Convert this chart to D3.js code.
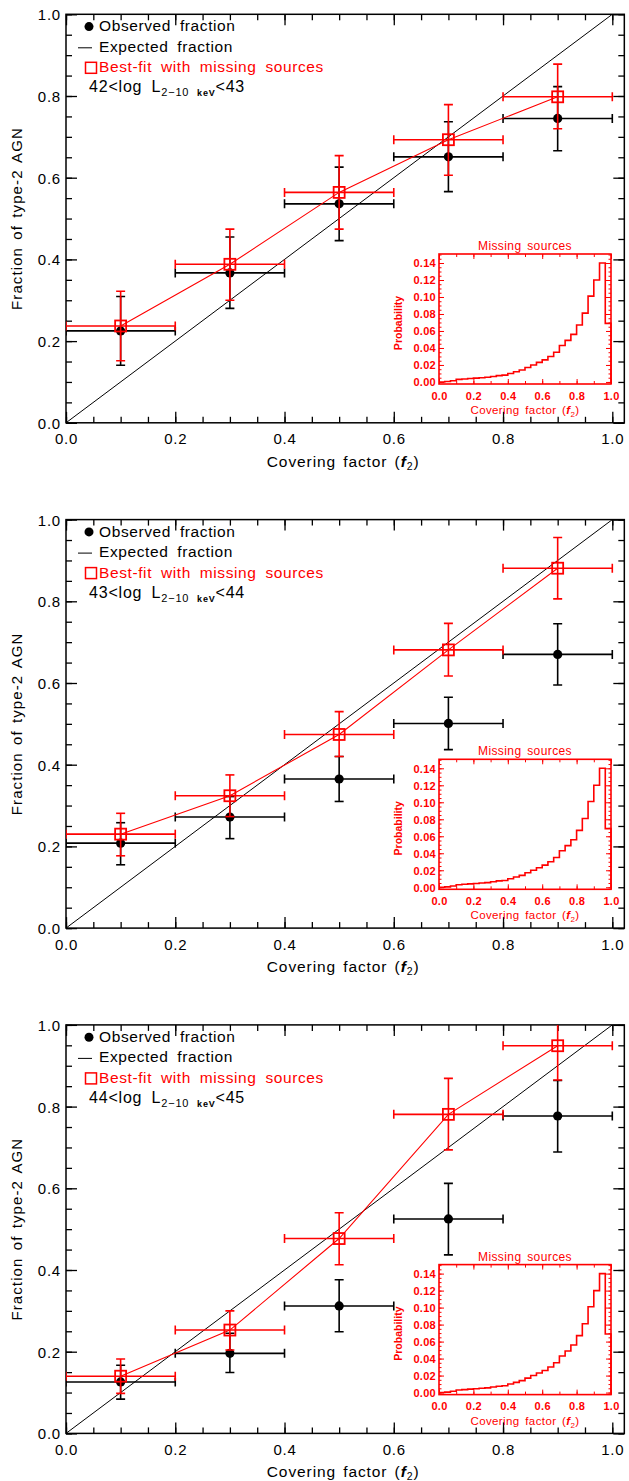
<!DOCTYPE html>
<html>
<head>
<meta charset="utf-8">
<script src="https://cdn.jsdelivr.net/npm/d3@7"></script>
<style>
  body { margin: 0; background: #fff; }
  svg text { font-family: "Liberation Sans", Arial, sans-serif; }
</style>
</head>
<body>
<svg id="chart" width="629" height="1481"></svg>
<script>
// bins in covering factor
const binMid = [0.1, 0.3, 0.5, 0.7, 0.9];
const binLo = [0.0, 0.2, 0.4, 0.6, 0.8];
const binHi = [0.2, 0.4, 0.6, 0.8, 1.0];

// luminosity ranges of the three panels
const lumLo = [42, 43, 44];
const lumHi = [43, 44, 45];

// observed fraction of type-2 AGN (black)
const obsFrac = [
  [0.225, 0.367, 0.536, 0.651, 0.745],
  [0.208, 0.272, 0.365, 0.501, 0.670],
  [0.126, 0.196, 0.312, 0.525, 0.777]
];
const obsLow = [
  [0.141, 0.280, 0.446, 0.566, 0.666],
  [0.155, 0.219, 0.310, 0.437, 0.595],
  [0.084, 0.149, 0.249, 0.437, 0.689]
];
const obsHigh = [
  [0.309, 0.455, 0.626, 0.737, 0.823],
  [0.258, 0.322, 0.420, 0.565, 0.745],
  [0.167, 0.245, 0.376, 0.612, 0.864]
];

// best-fit with missing sources (red)
const fitFrac = [
  [0.237, 0.388, 0.564, 0.693, 0.798],
  [0.230, 0.324, 0.474, 0.681, 0.881],
  [0.140, 0.253, 0.477, 0.781, 0.949]
];
const fitLow = [
  [0.152, 0.300, 0.474, 0.606, 0.720],
  [0.177, 0.273, 0.420, 0.617, 0.806],
  [0.098, 0.204, 0.413, 0.694, 0.865]
];
const fitHigh = [
  [0.322, 0.474, 0.654, 0.779, 0.878],
  [0.281, 0.375, 0.530, 0.746, 0.956],
  [0.182, 0.300, 0.540, 0.869, 1.035]
];

// expected fraction line
const expX = [0, 1];
const expY = [0, 1];

// missing sources histogram (inset)
const histEdges = [0, 0.0333, 0.0667, 0.1, 0.1333, 0.1667, 0.2, 0.2333, 0.2667, 0.3,
  0.3333, 0.3667, 0.4, 0.4333, 0.4667, 0.5, 0.5333, 0.5667, 0.6, 0.6333, 0.6667,
  0.7, 0.7333, 0.7667, 0.8, 0.8333, 0.8667, 0.9, 0.9333, 0.9667, 1.0];
const histProb = [0.0, 0.0005, 0.0015, 0.003, 0.0035, 0.004, 0.0045, 0.005, 0.0055, 0.0065,
  0.0075, 0.008, 0.010, 0.012, 0.014, 0.017, 0.020, 0.023, 0.026, 0.030,
  0.035, 0.043, 0.049, 0.056, 0.067, 0.081, 0.101, 0.120, 0.140, 0.069];

// ticks
const mainMajor = [0, 0.2, 0.4, 0.6, 0.8, 1.0];
const mainMinor = d3.range(0, 1.0001, 0.05);
const insetXMajor = [0, 0.2, 0.4, 0.6, 0.8, 1.0];
const insetXMinor = d3.range(0, 1.0001, 0.1);
const insetYMajor = [0, 0.02, 0.04, 0.06, 0.08, 0.10, 0.12, 0.14];
const insetYMinor = d3.range(0, 0.1501, 0.005);

const svg = d3.select("#chart");
svg.append("rect").attr("width", 629).attr("height", 1481).attr("fill", "#fff");

const RED = "#ff0000";
const fmt1 = d3.format(".1f");
const fmt2 = d3.format(".2f");

function drawPanel(k) {
  const top = 14.3 + 505.3 * k;
  const bottom = top + 408.5;
  const x = d3.scaleLinear().domain([0, 1]).range([66, 612.3]);
  const y = d3.scaleLinear().domain([0, 1]).range([bottom, top]);
  const xMax = x(1.022);

  const g = svg.append("g");

  // clip
  const clipId = "clip" + k;
  g.append("clipPath").attr("id", clipId)
    .append("rect").attr("x", x(0)).attr("y", top).attr("width", xMax - x(0)).attr("height", bottom - top);

  // axes: bottom with labels, top mirror
  g.append("g").attr("transform", `translate(0,${bottom})`)
    .call(d3.axisBottom(x).tickValues(mainMajor).tickSize(-11).tickPadding(11).tickFormat(fmt1));
  g.append("g").attr("transform", `translate(0,${bottom})`)
    .call(d3.axisBottom(x).tickValues(mainMinor).tickSize(-6).tickFormat(""));
  g.append("g").attr("transform", `translate(0,${top})`)
    .call(d3.axisTop(x).tickValues(mainMajor).tickSize(-11).tickFormat(""));
  g.append("g").attr("transform", `translate(0,${top})`)
    .call(d3.axisTop(x).tickValues(mainMinor).tickSize(-6).tickFormat(""));
  const axL = g.append("g").attr("transform", `translate(${x(0)},0)`)
    .call(d3.axisLeft(y).tickValues(mainMajor).tickSize(-11).tickPadding(5).tickFormat(fmt1));
  g.append("g").attr("transform", `translate(${x(0)},0)`)
    .call(d3.axisLeft(y).tickValues(mainMinor).tickSize(-6).tickFormat(""));
  g.append("g").attr("transform", `translate(${xMax},0)`)
    .call(d3.axisRight(y).tickValues(mainMajor).tickSize(-11).tickFormat(""));
  g.append("g").attr("transform", `translate(${xMax},0)`)
    .call(d3.axisRight(y).tickValues(mainMinor).tickSize(-6).tickFormat(""));

  g.selectAll(".domain").remove();
  g.selectAll(".tick line").attr("stroke", "#000").attr("stroke-width", 1.3);
  g.selectAll(".tick text").attr("fill", "#000").style("font-size", "15px").style("letter-spacing", "0.8px");
  axL.selectAll(".tick text").attr("dy", "0.36em");

  // frame
  g.append("rect").attr("x", x(0)).attr("y", top).attr("width", xMax - x(0)).attr("height", bottom - top)
    .attr("fill", "none").attr("stroke", "#000").attr("stroke-width", 1.5);

  // axis titles
  const xt = g.append("text").attr("x", (x(0) + xMax) / 2 - 2).attr("y", bottom + 44)
    .attr("text-anchor", "middle").style("font-size", "15.5px").style("letter-spacing", "0.9px")
    .style("word-spacing", "2px");
  xt.append("tspan").text("Covering factor (");
  xt.append("tspan").text("f").style("font-style", "italic").style("font-weight", "bold");
  xt.append("tspan").text("2").style("font-size", "10.5px").attr("baseline-shift", "-3");
  xt.append("tspan").text(")");

  g.append("text").attr("transform", `translate(22,${(top + bottom) / 2}) rotate(-90)`)
    .attr("text-anchor", "middle").style("font-size", "15px").style("letter-spacing", "1.1px")
    .style("word-spacing", "2px")
    .text("Fraction of type-2 AGN");

  // inset histogram
  drawInset(g, k);

  const plot = g.append("g").attr("clip-path", `url(#${clipId})`);

  // expected fraction
  plot.append("line")
    .attr("x1", x(expX[0])).attr("y1", y(expY[0]))
    .attr("x2", x(expX[1])).attr("y2", y(expY[1]))
    .attr("stroke", "#000").attr("stroke-width", 1);

  const cap = 4.5;
  function errorBars(sel, frac, lo, hi, color, w) {
    binMid.forEach((m, i) => {
      const cx = x(m), cy = y(frac[i]);
      // horizontal
      sel.append("line").attr("x1", x(binLo[i])).attr("x2", x(binHi[i])).attr("y1", cy).attr("y2", cy)
        .attr("stroke", color).attr("stroke-width", w);
      sel.append("line").attr("x1", x(binLo[i])).attr("x2", x(binLo[i])).attr("y1", cy - cap).attr("y2", cy + cap)
        .attr("stroke", color).attr("stroke-width", w);
      sel.append("line").attr("x1", x(binHi[i])).attr("x2", x(binHi[i])).attr("y1", cy - cap).attr("y2", cy + cap)
        .attr("stroke", color).attr("stroke-width", w);
      // vertical
      sel.append("line").attr("x1", cx).attr("x2", cx).attr("y1", y(lo[i])).attr("y2", y(hi[i]))
        .attr("stroke", color).attr("stroke-width", w);
      sel.append("line").attr("x1", cx - cap).attr("x2", cx + cap).attr("y1", y(lo[i])).attr("y2", y(lo[i]))
        .attr("stroke", color).attr("stroke-width", w);
      sel.append("line").attr("x1", cx - cap).attr("x2", cx + cap).attr("y1", y(hi[i])).attr("y2", y(hi[i]))
        .attr("stroke", color).attr("stroke-width", w);
    });
  }

  // observed
  errorBars(plot, obsFrac[k], obsLow[k], obsHigh[k], "#000", 1.6);
  plot.selectAll(".obs").data(obsFrac[k]).enter().append("circle")
    .attr("cx", (d, i) => x(binMid[i])).attr("cy", d => y(d)).attr("r", 4.6).attr("fill", "#000");

  // best fit
  errorBars(plot, fitFrac[k], fitLow[k], fitHigh[k], RED, 1.6);
  plot.append("path")
    .attr("d", d3.line().x((d, i) => x(binMid[i])).y(d => y(d))(fitFrac[k]))
    .attr("fill", "none").attr("stroke", RED).attr("stroke-width", 1.1);
  const s = 11;
  plot.selectAll(".fit").data(fitFrac[k]).enter().append("rect")
    .attr("x", (d, i) => x(binMid[i]) - s / 2).attr("y", d => y(d) - s / 2)
    .attr("width", s).attr("height", s)
    .attr("fill", "none").attr("stroke", RED).attr("stroke-width", 1.8);

  // legend
  const lx = 99;
  const fs = "15.5px";
  const ls = "0.6px";
  const ws = "4px";
  g.append("circle").attr("cx", 89).attr("cy", top + 12.3).attr("r", 4.5).attr("fill", "#000");
  g.append("text").attr("x", lx).attr("y", top + 17).style("font-size", fs).style("letter-spacing", ls)
    .style("word-spacing", ws).text("Observed fraction");
  g.append("line").attr("x1", 78).attr("x2", 92).attr("y1", top + 33.5).attr("y2", top + 33.5)
    .attr("stroke", "#000").attr("stroke-width", 1);
  g.append("text").attr("x", lx).attr("y", top + 37.5).style("font-size", fs).style("letter-spacing", ls)
    .style("word-spacing", ws).text("Expected fraction");
  g.append("rect").attr("x", 85.5).attr("y", top + 48).attr("width", 11).attr("height", 11)
    .attr("fill", "none").attr("stroke", RED).attr("stroke-width", 1.5);
  g.append("text").attr("x", lx).attr("y", top + 58).style("font-size", fs).style("letter-spacing", ls)
    .style("word-spacing", ws).attr("fill", RED).text("Best-fit with missing sources");
  const lt = g.append("text").attr("x", 89).attr("y", top + 78).style("font-size", "16px")
    .style("letter-spacing", "0.8px").style("word-spacing", ws);
  lt.append("tspan").text(`${lumLo[k]}<log L`);
  lt.append("tspan").text("2\u221210 ").style("font-size", "11px").attr("baseline-shift", "-3.5");
  lt.append("tspan").text("keV").style("font-size", "9px").style("font-weight", "bold").attr("baseline-shift", "-3.5");
  lt.append("tspan").text(`<${lumHi[k]}`);
}

function drawInset(g, k) {
  const top = 254 + 505.3 * k;
  const bottom = top + 130;
  const xi = d3.scaleLinear().domain([0, 1]).range([439, 611]);
  const yi = d3.scaleLinear().domain([-0.0024, 0.1506]).range([bottom, top]);
  const ig = g.append("g");

  ig.append("g").attr("transform", `translate(0,${bottom})`)
    .call(d3.axisBottom(xi).tickValues(insetXMajor).tickSize(-5).tickPadding(8).tickFormat(fmt1));
  ig.append("g").attr("transform", `translate(0,${bottom})`)
    .call(d3.axisBottom(xi).tickValues(insetXMinor).tickSize(-3).tickFormat(""));
  ig.append("g").attr("transform", `translate(0,${top})`)
    .call(d3.axisTop(xi).tickValues(insetXMajor).tickSize(-5).tickFormat(""));
  ig.append("g").attr("transform", `translate(0,${top})`)
    .call(d3.axisTop(xi).tickValues(insetXMinor).tickSize(-3).tickFormat(""));
  const iyl = ig.append("g").attr("transform", `translate(${xi(0)},0)`)
    .call(d3.axisLeft(yi).tickValues(insetYMajor).tickSize(-5).tickPadding(3).tickFormat(fmt2));
  ig.append("g").attr("transform", `translate(${xi(0)},0)`)
    .call(d3.axisLeft(yi).tickValues(insetYMinor).tickSize(-2.5).tickFormat(""));
  ig.append("g").attr("transform", `translate(${xi(1)},0)`)
    .call(d3.axisRight(yi).tickValues(insetYMajor).tickSize(-5).tickFormat(""));
  ig.append("g").attr("transform", `translate(${xi(1)},0)`)
    .call(d3.axisRight(yi).tickValues(insetYMinor).tickSize(-2.5).tickFormat(""));
  ig.selectAll(".domain").remove();
  ig.selectAll(".tick line").attr("stroke", RED).attr("stroke-width", 1);
  ig.selectAll(".tick text").attr("fill", RED).style("font-size", "11px")
    .style("font-weight", "bold").style("letter-spacing", "0.3px");
  iyl.selectAll(".tick text").attr("dy", "0.36em");

  // histogram (step)
  const pts = histProb.map((p, i) => [histEdges[i], p]);
  pts.push([histEdges[histEdges.length - 1], histProb[histProb.length - 1]]);
  pts.push([histEdges[histEdges.length - 1], 0]);
  ig.append("path")
    .attr("d", d3.line().x(d => xi(d[0])).y(d => yi(d[1])).curve(d3.curveStepAfter)(pts))
    .attr("fill", "none").attr("stroke", RED).attr("stroke-width", 1.6);

  ig.append("rect").attr("x", xi(0)).attr("y", top).attr("width", xi(1) - xi(0)).attr("height", bottom - top)
    .attr("fill", "none").attr("stroke", RED).attr("stroke-width", 1.6);

  ig.append("text").attr("x", (xi(0) + xi(1)) / 2).attr("y", top - 4)
    .attr("text-anchor", "middle").attr("fill", RED).style("font-size", "12px")
    .style("letter-spacing", "0.4px").style("word-spacing", "2px").text("Missing sources");
  const t = ig.append("text").attr("x", (xi(0) + xi(1)) / 2).attr("y", bottom + 30)
    .attr("text-anchor", "middle").attr("fill", RED).style("font-size", "11.5px")
    .style("letter-spacing", "0.4px").style("word-spacing", "2px");
  t.append("tspan").text("Covering factor (");
  t.append("tspan").text("f").style("font-style", "italic").style("font-weight", "bold");
  t.append("tspan").text("2").style("font-size", "8px").attr("baseline-shift", "-3");
  t.append("tspan").text(")");
  ig.append("text").attr("transform", `translate(402,${(top + bottom) / 2 + 4}) rotate(-90)`)
    .attr("text-anchor", "middle").attr("fill", RED).style("font-size", "10.5px")
    .style("font-weight", "bold").text("Probability");
}

[0, 1, 2].forEach(drawPanel);
</script>
</body>
</html>
